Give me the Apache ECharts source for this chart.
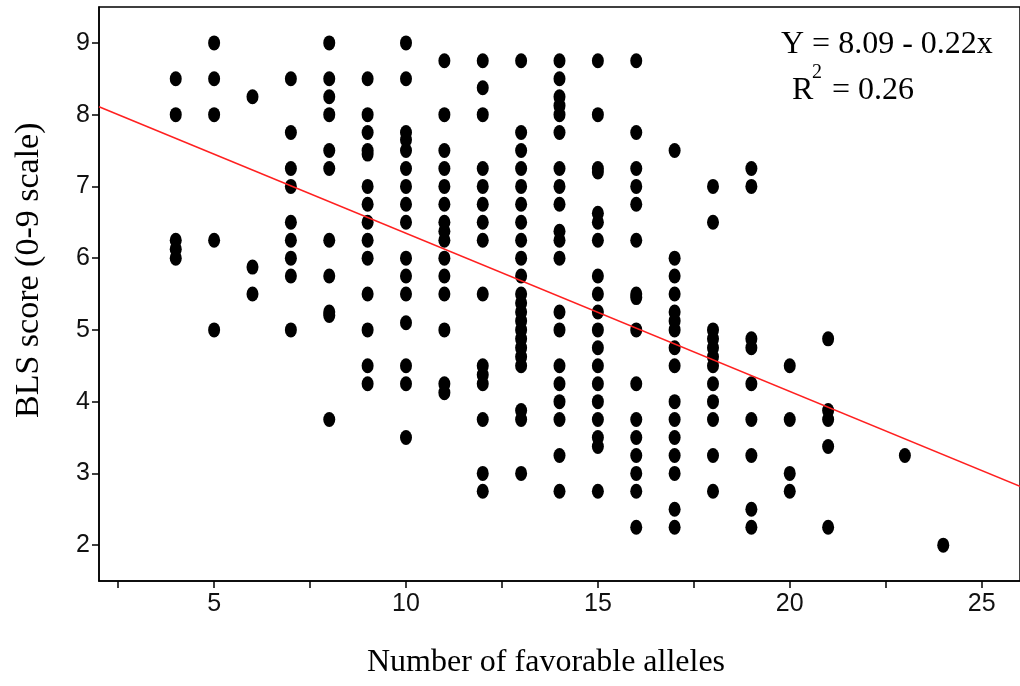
<!DOCTYPE html>
<html>
<head>
<meta charset="utf-8">
<script src="https://cdn.jsdelivr.net/npm/echarts@6/dist/echarts.min.js"></script>
<style>
  html, body { margin: 0; padding: 0; background: #fff; }
  #chart { width: 1020px; height: 686px; }
</style>
</head>
<body>
<div id="chart"></div>
<script>
// BLS score by number of favorable alleles (one array per allele count)
const bls4 = [8.5, 8.0, 6.25, 6.125, 6.0];
const bls5 = [9.0, 8.5, 8.0, 6.25, 5.0];
const bls6 = [8.25, 5.875, 5.5];
const bls7 = [8.5, 7.75, 7.25, 7.0, 6.5, 6.25, 6.0, 5.75, 5.0];
const bls8 = [9.0, 8.5, 8.25, 8.0, 7.5, 7.25, 6.25, 5.75, 5.25, 5.2, 3.75];
const bls9 = [8.5, 8.0, 7.75, 7.5, 7.45, 7.0, 6.75, 6.5, 6.25, 6.0, 5.5, 5.0, 4.5, 4.25];
const bls10 = [9.0, 8.5, 7.75, 7.65, 7.5, 7.25, 7.0, 6.75, 6.5, 6.0, 5.75, 5.5, 5.1, 4.5, 4.25, 3.5];
const bls11 = [8.75, 8.0, 7.5, 7.25, 7.0, 6.75, 6.5, 6.375, 6.25, 6.0, 5.75, 5.5, 5.0, 4.25, 4.125];
const bls12 = [8.75, 8.375, 8.0, 7.25, 7.0, 6.75, 6.5, 6.25, 5.5, 4.5, 4.375, 4.25, 3.75, 3.0, 2.75];
const bls13 = [8.75, 7.75, 7.5, 7.25, 7.0, 6.75, 6.5, 6.25, 6.0, 5.75, 5.5, 5.375, 5.25, 5.125, 5.0, 4.875, 4.75, 4.625, 4.5, 3.875, 3.75, 3.0];
const bls14 = [8.75, 8.5, 8.25, 8.125, 8.0, 7.75, 7.25, 7.0, 6.75, 6.375, 6.25, 6.0, 5.25, 5.0, 4.5, 4.25, 4.0, 3.75, 3.25, 2.75];
const bls15 = [8.75, 8.0, 7.25, 7.2, 6.625, 6.5, 6.25, 5.75, 5.5, 5.25, 5.0, 4.75, 4.5, 4.25, 4.0, 3.75, 3.5, 3.375, 2.75];
const bls16 = [8.75, 7.75, 7.25, 7.0, 6.75, 6.25, 5.5, 5.45, 5.0, 4.25, 3.75, 3.5, 3.25, 3.0, 2.75, 2.25];
const bls17 = [7.5, 6.0, 5.75, 5.5, 5.25, 5.125, 5.0, 4.75, 4.5, 4.0, 3.75, 3.5, 3.25, 3.0, 2.5, 2.25];
const bls18 = [7.0, 6.5, 5.0, 4.875, 4.75, 4.625, 4.5, 4.25, 4.0, 3.75, 3.25, 2.75];
const bls19 = [7.25, 7.0, 4.875, 4.75, 4.25, 3.75, 3.25, 2.5, 2.25];
const bls20 = [4.5, 3.75, 3.0, 2.75];
const bls21 = [4.875, 3.875, 3.75, 3.375, 2.25];
const bls23 = [3.25];
const bls24 = [2.0];

const alleleCounts = [4, 5, 6, 7, 8, 9, 10, 11, 12, 13, 14, 15, 16, 17, 18, 19, 20, 21, 23, 24];
const blsColumns = [bls4, bls5, bls6, bls7, bls8, bls9, bls10, bls11, bls12, bls13,
  bls14, bls15, bls16, bls17, bls18, bls19, bls20, bls21, bls23, bls24];

// fitted line as drawn, end points at the axis edges
const fitLine = [[2, 8.11], [26, 2.82]];

const xTicks = [2.5, 5, 7.5, 10, 12.5, 15, 17.5, 20, 22.5, 25];
const xLabels = [5, 10, 15, 20, 25];
const yTicks = [2, 3, 4, 5, 6, 7, 8, 9];

const points = [];
alleleCounts.forEach((n, i) => {
  blsColumns[i].forEach(v => points.push([n, v]));
});

const serif = '"Liberation Serif", "DejaVu Serif", serif';
const sans = '"Liberation Sans", Arial, sans-serif';

const chart = echarts.init(document.getElementById('chart'));
chart.setOption({
  animation: false,
  backgroundColor: '#fff',
  grid: {
    left: 99, top: 7, right: -8, bottom: 105,
    show: true, borderColor: '#000', borderWidth: 1.5
  },
  xAxis: {
    type: 'value', min: 2, max: 26,
    splitLine: { show: false },
    axisLine: { lineStyle: { color: '#000', width: 1.5 } },
    axisTick: { customValues: xTicks, length: 7, lineStyle: { color: '#000', width: 1.5 } },
    axisLabel: { customValues: xLabels, fontSize: 25, fontFamily: sans, color: '#111', margin: 11 }
  },
  yAxis: {
    type: 'value', min: 1.5, max: 9.5,
    splitLine: { show: false },
    axisLine: { lineStyle: { color: '#000', width: 1.5 } },
    axisTick: { customValues: yTicks, length: 7, lineStyle: { color: '#000', width: 1.5 } },
    axisLabel: { customValues: yTicks, fontSize: 25, fontFamily: sans, color: '#111', margin: 9 }
  },
  series: [
    {
      type: 'scatter',
      data: points,
      symbol: 'circle',
      symbolSize: [12, 15],
      itemStyle: { color: '#000', opacity: 1 },
      z: 2
    },
    {
      type: 'line',
      data: fitLine,
      showSymbol: false,
      lineStyle: { color: '#ff2020', width: 1.5 },
      silent: true,
      z: 3
    }
  ],
  graphic: [
    {
      type: 'text', left: 367, top: 647,
      style: { text: 'Number of favorable alleles', font: '32px ' + serif, fill: '#000' }
    },
    {
      type: 'text', x: 12, y: 418, rotation: Math.PI / 2,
      style: { text: 'BLS score (0-9 scale)', font: '34px ' + serif, fill: '#000' }
    },
    {
      type: 'text', left: 781, top: 29,
      style: { text: 'Y = 8.09 - 0.22x', font: '32px ' + serif, fill: '#000' }
    },
    {
      type: 'text', left: 792, top: 75,
      style: { text: 'R', font: '32px ' + serif, fill: '#000' }
    },
    {
      type: 'text', left: 812, top: 63,
      style: { text: '2', font: '20px ' + serif, fill: '#000' }
    },
    {
      type: 'text', left: 832, top: 75,
      style: { text: '= 0.26', font: '32px ' + serif, fill: '#000' }
    }
  ]
});
</script>
</body>
</html>
